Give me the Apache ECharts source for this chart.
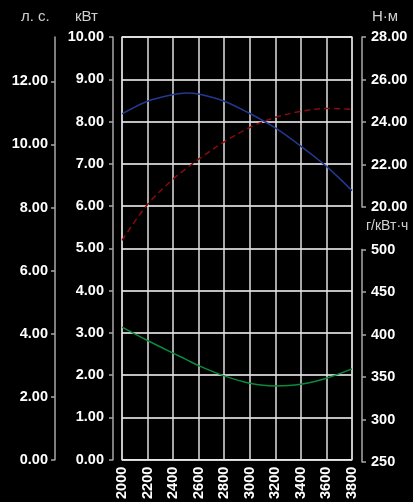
<!DOCTYPE html>
<html>
<head>
<meta charset="utf-8">
<script src="https://cdn.jsdelivr.net/npm/echarts@6/dist/echarts.min.js"></script>
<style>
html,body{margin:0;padding:0;background:#000;}
#c{width:413px;height:502px;}
</style>
</head>
<body>
<div id="c"></div>
<script>
const rpm = [2000, 2200, 2400, 2500, 2600, 2800, 3000, 3200, 3400, 3600, 3800];
const powerKw = [5.19, 6.04, 6.64, 6.88, 7.11, 7.52, 7.86, 8.10, 8.24, 8.31, 8.29];
const torqueNm = [24.38, 24.98, 25.29, 25.37, 25.32, 24.98, 24.40, 23.72, 22.86, 21.91, 20.77];
const fuelGkwh = [408.7, 392.9, 378.0, 370.8, 363.4, 351.3, 342.7, 339.5, 341.5, 348.6, 359.5];
const hpTicks = [0, 2, 4, 6, 8, 10, 12];

const pair = (xs, ys) => xs.map((x, i) => [x, ys[i]]);
const FONT = 'Liberation Sans, Arial, sans-serif';
const axisGray = '#a8a8a8';
const lbl = {color: '#fff', fontWeight: 'bold', fontSize: 14.5, fontFamily: FONT};

const chart = echarts.init(document.getElementById('c'), null, {renderer: 'canvas'});
const L = 122, R = 61;
chart.setOption({
  backgroundColor: '#000',
  animation: false,
  grid: [
    {left: L, right: R, top: 37, bottom: 40, show: true, borderColor: axisGray, borderWidth: 1.5, backgroundColor: 'transparent'},
    {left: L, right: R, top: 37, height: 170},
    {left: L, right: R, top: 249.5, bottom: 40}
  ],
  xAxis: [
    {gridIndex: 0, type: 'value', min: 2000, max: 3800, interval: 200,
     axisLine: {show: false}, axisTick: {show: false},
     axisLabel: Object.assign({rotate: 90, margin: 7, formatter: v => String(v)}, lbl),
     splitLine: {show: true, lineStyle: {color: '#e0e0e0', width: 1.5}}},
    {gridIndex: 1, type: 'value', min: 2000, max: 3800, show: false},
    {gridIndex: 2, type: 'value', min: 2000, max: 3800, show: false}
  ],
  yAxis: [
    {gridIndex: 0, type: 'value', min: 0, max: 10, interval: 1, position: 'left', offset: 9,
     axisLine: {show: true, lineStyle: {color: axisGray, width: 1.5}},
     axisTick: {show: true, length: 4, lineStyle: {color: axisGray, width: 1.5}},
     axisLabel: Object.assign({margin: 9, formatter: v => v.toFixed(2)}, lbl),
     splitLine: {show: true, lineStyle: {color: '#fff', width: 1.5}}},
    {gridIndex: 0, type: 'value', min: 0, max: 13.41, position: 'left', offset: 67,
     axisLine: {show: true, lineStyle: {color: axisGray, width: 1.5}},
     axisTick: {show: true, length: 4, customValues: hpTicks, lineStyle: {color: axisGray, width: 1.5}},
     axisLabel: Object.assign({margin: 7, customValues: hpTicks, formatter: v => v.toFixed(2)}, lbl),
     splitLine: {show: false}},
    {gridIndex: 1, type: 'value', min: 20, max: 28, interval: 2, position: 'right', offset: 10,
     axisLine: {show: true, lineStyle: {color: axisGray, width: 1.5}},
     axisTick: {show: true, length: 4, lineStyle: {color: axisGray, width: 1.5}},
     axisLabel: Object.assign({margin: 9, formatter: v => v.toFixed(2)}, lbl),
     splitLine: {show: false}},
    {gridIndex: 2, type: 'value', min: 250, max: 500, interval: 50, position: 'right', offset: 10,
     axisLine: {show: true, lineStyle: {color: axisGray, width: 1.5}},
     axisTick: {show: true, length: 4, lineStyle: {color: axisGray, width: 1.5}},
     axisLabel: Object.assign({margin: 9, formatter: v => String(v)}, lbl),
     splitLine: {show: false}}
  ],
  graphic: [
    {type: 'text', left: 21, top: 9, style: {text: 'л. с.', fill: '#d0d0d0', font: '15px ' + FONT}},
    {type: 'text', left: 75, top: 9, style: {text: 'кВт', fill: '#d0d0d0', font: '15px ' + FONT}},
    {type: 'text', left: 372, top: 9, style: {text: 'Н·м', fill: '#d0d0d0', font: '15px ' + FONT}},
    {type: 'text', left: 366, top: 219, style: {text: 'г/кВт·ч', fill: '#d0d0d0', font: '14px ' + FONT}}
  ],
  series: [
    {name: 'power', type: 'line', xAxisIndex: 0, yAxisIndex: 0, data: pair(rpm, powerKw),
     smooth: 0.35, showSymbol: false, lineStyle: {color: '#8b0a0a', width: 1.5, type: [6, 4]}},
    {name: 'torque', type: 'line', xAxisIndex: 1, yAxisIndex: 2, data: pair(rpm, torqueNm),
     smooth: 0.35, showSymbol: false, lineStyle: {color: '#23388f', width: 1.5}},
    {name: 'fuel', type: 'line', xAxisIndex: 2, yAxisIndex: 3, data: pair(rpm, fuelGkwh),
     smooth: 0.35, showSymbol: false, lineStyle: {color: '#0b8a3c', width: 1.5}}
  ]
});
</script>
</body>
</html>
